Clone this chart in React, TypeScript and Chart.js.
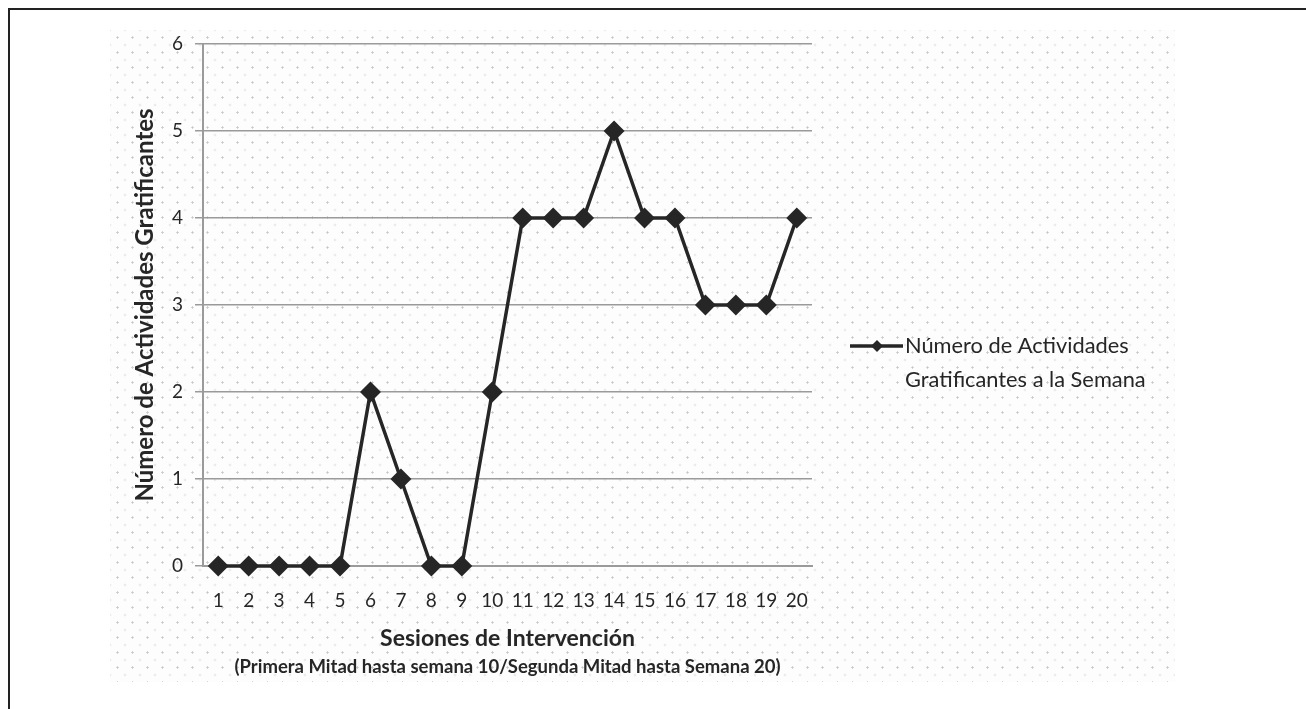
import React, { useEffect, useRef } from "react";
import { Chart, registerables } from "chart.js";

Chart.register(...registerables);

const sessions = ["1","2","3","4","5","6","7","8","9","10","11","12","13","14","15","16","17","18","19","20"];
const activities = [0, 0, 0, 0, 0, 2, 1, 0, 0, 2, 4, 4, 4, 5, 4, 4, 3, 3, 3, 4];
const seriesLabel = ["Número de Actividades", "Gratificantes a la Semana"];
const yTitle = "Número de Actividades Gratificantes";
const xTitle = "Sesiones de Intervención";
const xSubtitle = "(Primera Mitad hasta semana 10/Segunda Mitad hasta Semana 20)";

const FONT = "Lato, 'Open Sans', sans-serif";
const INK = "#262626";
const GRID = "#9a9a9a";

const legendPlugin = {
  id: "customLegend",
  afterDraw(chart: any) {
    const ctx = chart.ctx;
    const area = chart.chartArea;
    ctx.save();
    const lx = area.right + 38;
    const ly = 346;
    ctx.strokeStyle = INK;
    ctx.lineWidth = 3.5;
    ctx.beginPath();
    ctx.moveTo(lx, ly);
    ctx.lineTo(lx + 53, ly);
    ctx.stroke();
    const cx = lx + 27;
    const r = 6;
    ctx.fillStyle = INK;
    ctx.beginPath();
    ctx.moveTo(cx, ly - r);
    ctx.lineTo(cx + r, ly);
    ctx.lineTo(cx, ly + r);
    ctx.lineTo(cx - r, ly);
    ctx.closePath();
    ctx.fill();
    ctx.font = `21.8px ${FONT}`;
    ctx.textBaseline = "middle";
    ctx.textAlign = "left";
    ctx.fillText(seriesLabel[0], lx + 55, 346);
    ctx.fillText(seriesLabel[1], lx + 55, 380);
    ctx.font = `bold 18.5px ${FONT}`;
    ctx.textAlign = "center";
    ctx.fillText(xSubtitle, (area.left + area.right) / 2, 667);
    ctx.restore();
  },
};

export default function App() {
  const ref = useRef<HTMLCanvasElement | null>(null);
  useEffect(() => {
    if (!ref.current) return;
    const chart = new Chart(ref.current, {
      type: "line",
      data: {
        labels: sessions,
        datasets: [
          {
            label: seriesLabel.join(" "),
            data: activities,
            borderColor: INK,
            backgroundColor: INK,
            borderWidth: 3.5,
            pointStyle: "rectRot",
            pointRadius: 8,
            pointBackgroundColor: INK,
            pointBorderColor: INK,
            tension: 0,
            clip: false,
          },
        ],
      },
      plugins: [legendPlugin],
      options: {
        animation: false,
        responsive: false,
        devicePixelRatio: 1,
        layout: { padding: { left: 130, top: 44, right: 494, bottom: 23 } },
        plugins: { legend: { display: false }, tooltip: { enabled: false } },
        scales: {
          x: {
            type: "category",
            offset: true,
            grid: { display: false },
            border: { display: true, color: GRID, width: 2 },
            ticks: { color: INK, font: { family: FONT, size: 19 }, padding: 15, maxRotation: 0, autoSkip: false },
            title: { display: true, text: xTitle, color: INK, font: { family: FONT, size: 23, weight: "bold" }, padding: 34 },
            afterFit(scale: any) {
              scale.height = 120;
            },
          },
          y: {
            min: 0,
            max: 6,
            ticks: { stepSize: 1, color: INK, font: { family: FONT, size: 19 }, padding: 12 },
            grid: { color: GRID, lineWidth: 1.5, tickLength: 8 },
            border: { display: true, color: GRID, width: 2 },
            title: { display: true, text: yTitle, color: INK, font: { family: FONT, size: 24, weight: "bold" }, padding: 1 },
            afterFit(scale: any) {
              scale.width = 73;
            },
          },
        },
      },
    });
    return () => chart.destroy();
  }, []);

  const dots = {
    position: "absolute" as const,
    left: 110,
    top: 30,
    width: 1065,
    height: 652,
    backgroundColor: "#fdfdfd",
    backgroundImage:
      "radial-gradient(circle, #c8c8c8 0.9px, transparent 1.3px), radial-gradient(circle, #dadada 0.8px, transparent 1.2px)",
    backgroundSize: "15px 15px, 15px 15px",
    backgroundPosition: "0 0, 7.5px 7.5px",
  };

  return (
    <div style={{ position: "fixed", left: 0, top: 0, width: 1306, height: 709, overflow: "hidden", background: "#fff" }}>
      <div style={{ position: "absolute", left: 8, top: 8, width: 1400, height: 800, borderLeft: "2px solid #222", borderTop: "2px solid #222" }} />
      <div style={dots} />
      <canvas ref={ref} width={1306} height={709} style={{ position: "absolute", left: 0, top: 0, width: 1306, height: 709 }} />
    </div>
  );
}
